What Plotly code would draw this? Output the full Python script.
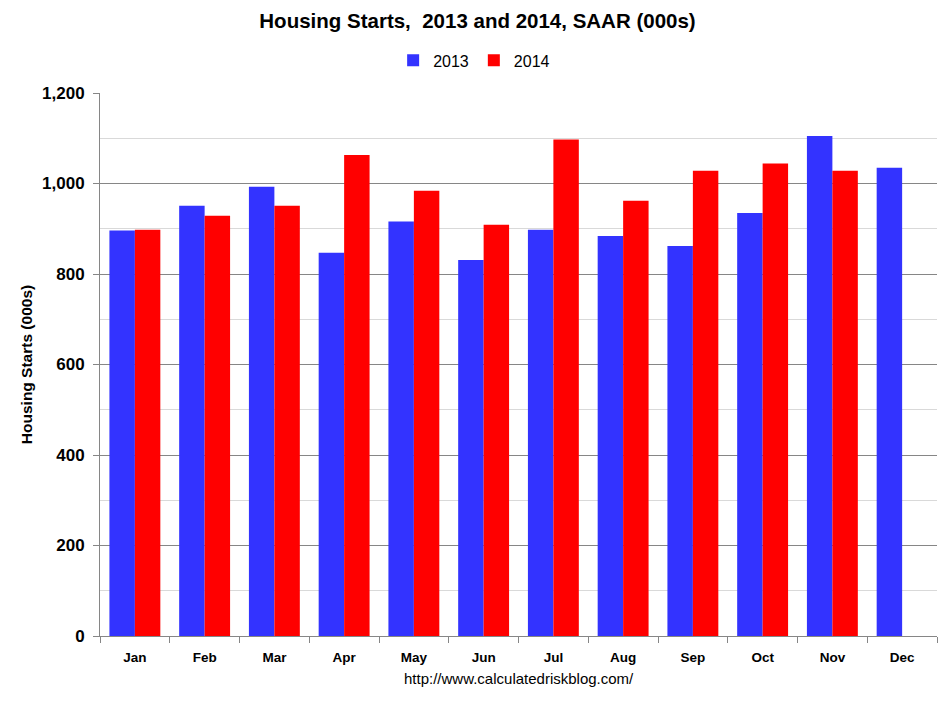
import plotly.graph_objects as go

months = ["Jan", "Feb", "Mar", "Apr", "May", "Jun", "Jul", "Aug", "Sep", "Oct", "Nov", "Dec"]
starts_2013 = [896, 951, 993, 847, 916, 831, 898, 884, 862, 935, 1105, 1035]
starts_2014 = [898, 929, 951, 1063, 984, 909, 1097, 962, 1028, 1044, 1028, None]
y_ticks = [0, 200, 400, 600, 800, 1000, 1200]

font_family = "Liberation Sans, Arial, sans-serif"

fig = go.Figure()
fig.add_trace(go.Bar(x=months, y=starts_2013, name="2013", marker=dict(color="#3333FF", line=dict(width=0))))
fig.add_trace(go.Bar(x=months, y=starts_2014, name="2014", marker=dict(color="#FF0000", line=dict(width=0))))

# page body has an 8px margin, so the figure is sized to fit the 947x701 window
fig.update_layout(
    width=939, height=693,
    margin=dict(l=92, r=10, t=85, b=65),
    paper_bgcolor="white", plot_bgcolor="white",
    barmode="group", bargap=0.27, bargroupgap=0,
    title=dict(text="<b>Housing Starts,  2013 and 2014, SAAR (000s)</b>",
               x=0.5, xanchor="center", y=0.982, yanchor="middle",
               font=dict(family=font_family, size=20.5, color="black")),
    legend=dict(orientation="h", x=0.447, xanchor="center", y=1.06, yanchor="middle",
                font=dict(family=font_family, size=16, color="black"),
                itemwidth=30, traceorder="normal"),
    font=dict(family=font_family, color="black"),
    showlegend=True,
)
fig.update_xaxes(
    automargin=False,
    showline=True, linecolor="#868686", linewidth=1,
    ticks="outside", tickson="boundaries", ticklen=6, tickcolor="#868686",
    ticklabelstandoff=9,
    tickfont=dict(family=font_family, size=13.5, color="black", weight="bold"),
    showgrid=False,
)
fig.update_yaxes(
    automargin=False,
    range=[0, 1200], tickvals=y_ticks, tickformat=",d",
    showline=True, linecolor="#868686", linewidth=1,
    ticks="outside", ticklen=6, tickcolor="#868686",
    ticklabelstandoff=5,
    showgrid=True, gridcolor="#868686", gridwidth=1,
    minor=dict(dtick=100, showgrid=True, gridcolor="#D9D9D9", gridwidth=1, ticks=""),
    tickfont=dict(family=font_family, size=17, color="black", weight="bold"),
    title=dict(text="<b>Housing Starts (000s)</b>", font=dict(family=font_family, size=15.5, color="black"), standoff=5),
    zeroline=False,
)
fig.add_annotation(text="http://www.calculatedriskblog.com/", xref="paper", yref="paper",
                   x=0.5, y=-0.079, xanchor="center", yanchor="middle", showarrow=False,
                   font=dict(family=font_family, size=15, color="black"))

fig.write_html("out.html")
